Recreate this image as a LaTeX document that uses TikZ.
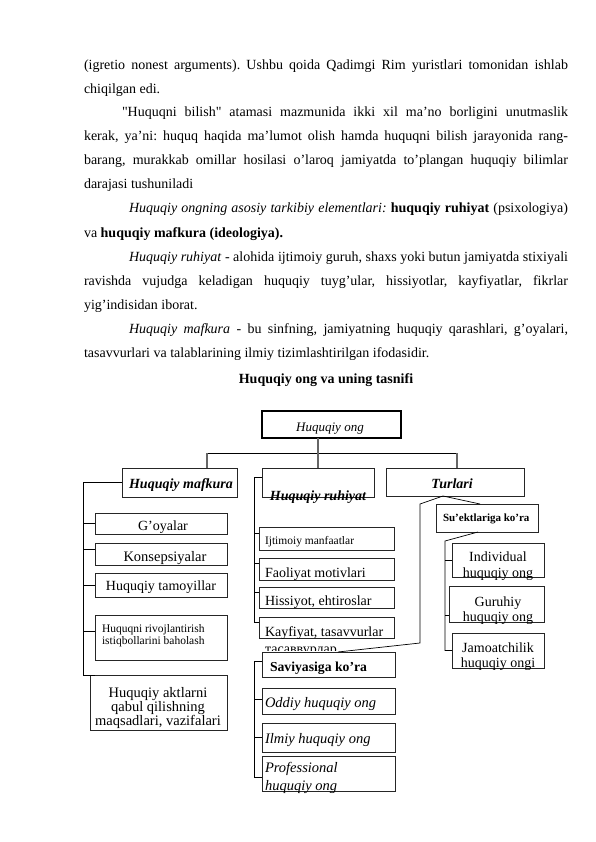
\documentclass[tikz,border=0pt]{standalone}
\usepackage{fontspec}
\setmainfont{Liberation Serif}[Ligatures=TeXOff]
\usetikzlibrary{calc}
\newcommand{\fsz}[1]{\fontsize{#1}{#1}\selectfont}
\newcommand{\mkbox}[6][]{\node[bx,minimum width=#5pt,minimum height=#6pt,#1] (#2) at (#3,#4) {};}
\tikzset{
  bx/.style={rectangle, draw=black!85, line width=0.8pt, fill=white, inner sep=0pt, outer sep=0pt, anchor=north west},
  conn/.style={draw=black, line width=0.7pt},
  drop/.style={draw=black!60, line width=1.3pt},
  para/.style={anchor=base west, inner sep=0pt, outer sep=0pt, font=\fsz{14}},
  lbl/.style={anchor=base, inner sep=0pt, outer sep=0pt},
  lbw/.style={anchor=base west, inner sep=0pt, outer sep=0pt},
}
\frenchspacing
\begin{document}
\begin{tikzpicture}[x=1pt,y=-1pt]
\fill[white] (0,0) rectangle (595,842);
\path[use as bounding box] (0,0) rectangle (595,842);

% ---------- text ----------
\node[para] (p1) at (84,70) {\makebox[484pt][s]{(igretio nonest arguments). Ushbu qoida Qadimgi Rim yuristlari tomonidan ishlab}};
\node[para] (p2) at (84,94) {chiqilgan edi.};
\node[para] (p3) at (122,117) {\makebox[446pt][s]{"Huquqni bilish" atamasi mazmunida ikki xil ma’no borligini unutmaslik}};
\node[para] (p4) at (84,141) {\makebox[484pt][s]{kerak, ya’ni: huquq haqida ma’lumot olish hamda huquqni bilish jarayonida rang-}};
\node[para] (p5) at (84,165) {\makebox[484pt][s]{barang, murakkab omillar hosilasi o’laroq jamiyatda to’plangan huquqiy bilimlar}};
\node[para] (p6) at (84,189) {darajasi tushuniladi};
\node[para] (p7) at (129,213) {\makebox[439pt][s]{\textit{Huquqiy ongning asosiy tarkibiy elementlari:} \textbf{huquqiy ruhiyat} (psixologiya)}};
\node[para] (p8) at (84,237) {va \textbf{huquqiy mafkura (ideologiya).}};
\node[para] (p9) at (129,261) {\makebox[439pt][s]{\textit{Huquqiy ruhiyat} - alohida ijtimoiy guruh, shaxs yoki butun jamiyatda stixiyali}};
\node[para] (p10) at (84,285) {\makebox[484pt][s]{ravishda vujudga keladigan huquqiy tuyg’ular, hissiyotlar, kayfiyatlar, fikrlar}};
\node[para] (p11) at (84,309) {yig’indisidan iborat.};
\node[para] (p12) at (129,333) {\makebox[439pt][s]{\textit{Huquqiy mafkura} - bu sinfning, jamiyatning huquqiy qarashlari, g’oyalari,}};
\node[para] (p13) at (84,357) {tasavvurlari va talablarining ilmiy tizimlashtirilgan ifodasidir.};
\node[lbl, font=\fsz{14}\bfseries] (title) at (326,383) {Huquqiy ong va uning tasnifi};

% ---------- boxes ----------
\mkbox[line width=2.5pt, draw=black]{ong}{262}{411}{139}{27}
\mkbox{maf}{122}{468}{115}{29}
\mkbox{ruh}{262}{468}{112}{29}
\mkbox{tur}{386}{468}{138}{28}
\mkbox{goy}{95}{513}{132}{21}
\mkbox{kon}{95}{543}{132}{22}
\mkbox{tam}{95}{573}{132}{24}
\mkbox{riv}{95}{615}{132}{45}
\mkbox{akt}{90}{675}{137}{55}
\mkbox{ijt}{259}{527}{135}{23}
\mkbox{fao}{259}{558}{135}{22}
\mkbox{his}{259}{587}{135}{21}
\mkbox{kay}{259}{617}{135}{21}
\mkbox{sav}{262}{652}{133}{25}
\mkbox{odd}{262}{688}{133}{26}
\mkbox{ilm}{262}{723}{133}{29}
\mkbox{pro}{262}{756}{133}{35}
\mkbox{sue}{436}{504}{102}{28}
\mkbox{ind}{452}{543}{92}{34}
\mkbox{gur}{449}{586}{95}{36}
\mkbox{jam}{452}{633}{92}{35}

% ---------- connectors ----------
\coordinate (jL) at (207,453);
\coordinate (jR) at (457,453);
\draw[conn] (jL) -- (jR);
\draw[drop] (ong.south -| ruh.north) -- (ruh.north);
\draw[drop] (jL) -- (jL |- maf.north);
\draw[drop] (jR) -- (jR |- tur.north);

% mafkura bracket
\coordinate (mb) at (83,0);
\coordinate (kt) at ($(kon.west)+(0,-5)$);
\coordinate (rt) at ($(riv.west)+(0,-6)$);
\draw[conn] (maf.west) -| ($(akt.north west)+(-7,0)$) -- ($(akt.north west)+(5,0)$);
\draw[conn] (goy.west -| mb) -- (goy.west);
\draw[conn] (kt -| mb) -- (kt);
\draw[conn] (tam.west -| mb) -- (tam.west);
\draw[conn] (rt -| mb) -- (rt);

% ruhiyat bracket
\coordinate (rb) at (254,0);
\coordinate (r0) at ($(ruh.west)+(0,-5)$);
\coordinate (r1) at ($(ijt.west)+(0,-5)$);
\coordinate (r2) at ($(fao.west)+(0,-6)$);
\coordinate (r3) at ($(his.west)+(0,-5)$);
\coordinate (r4) at ($(kay.west)+(0,-5)$);
\draw[conn] (r0) -| (rb |- r4) -- (r4);
\draw[conn] (r1 -| rb) -- (r1);
\draw[conn] (r2 -| rb) -- (r2);
\draw[conn] (r3 -| rb) -- (r3);

% saviyasiga bracket
\coordinate (v0) at ($(sav.west)+(0,-3)$);
\coordinate (v1) at ($(odd.west)+(0,-2)$);
\coordinate (v2) at (ilm.west);
\coordinate (v3) at ($(pro.west)+(0,4)$);
\draw[conn] (v0) -| (rb |- v3) -- (v3);
\draw[conn] (v1 -| rb) -- (v1);
\draw[conn] (v2 -| rb) -- (v2);

% turlari connectors
\coordinate (tb) at ($(tur.south)+(-12,0)$);
\coordinate (tk1) at (420,504);
\coordinate (tk2) at (420,643);
\coordinate (sv) at ($(sav.north west)!0.57!(sav.north east)$);
\draw[conn] (tb) -- (tk1) -- (tk2) -- (sv);
\draw[conn] (tb) -- ($(sue.north)+(-7,0)$);
\coordinate (sb) at ($(sue.south)+(-9,0)$);
\coordinate (s1) at (445,541);
\coordinate (gt) at ($(gur.west)+(0,11)$);
\draw[conn] (sb) -- (s1) -- (s1 |- jam.west) -- (jam.west);
\draw[conn] (ind.west -| s1) -- (ind.west);
\draw[conn] (gt -| s1) -- (gt);

% ---------- box texts ----------
\node[lbl, font=\fsz{13}\itshape] (tong) at (330,431) {Huquqiy ong};
\node[lbl, font=\fsz{14}\bfseries\itshape] (tmaf) at (181,488) {Huquqiy mafkura};
\node[lbl, font=\fsz{14}\bfseries\itshape] (truh) at (318,500) {Huquqiy ruhiyat};
\node[lbl, font=\fsz{14}\bfseries\itshape] (ttur) at (452,488) {Turlari};
\node[lbl, font=\fsz{14}] (tgoy) at (163,530) {G’oyalar};
\node[lbl, font=\fsz{14.5}] (tkon) at (165,561) {Konsepsiyalar};
\node[lbl, font=\fsz{14}] (ttam) at (161,590) {Huquqiy tamoyillar};
\node[lbw, font=\fsz{11.5}] (triv1) at (102,632) {Huquqni rivojlantirish};
\node[lbw, font=\fsz{11.5}] (triv2) at (102,644) {istiqbollarini baholash};
\node[lbl, font=\fsz{14.5}] (takt1) at (158,697) {Huquqiy aktlarni};
\node[lbl, font=\fsz{14.5}] (takt2) at (158,711) {qabul qilishning};
\node[lbl, font=\fsz{14.5}] (takt3) at (158,725) {maqsadlari, vazifalari};
\node[lbw, font=\fsz{11.5}] (tijt) at (265,544) {Ijtimoiy manfaatlar};
\node[lbw, font=\fsz{14}] (tfao) at (265,577) {Faoliyat motivlari};
\node[lbw, font=\fsz{14}] (this) at (265,605) {Hissiyot, ehtiroslar};
\node[lbw, font=\fsz{14}] (tkay) at (265,636) {Kayfiyat, tasavvurlar};
\begin{scope}
  \clip (259,639) rectangle (394,650.5);
  \node[lbw, font=\fsz{14}] (tkay2) at (265,653) {тасаввурлар};
\end{scope}
\node[lbw, font=\fsz{13.7}\bfseries] (tsav) at (270,671) {Saviyasiga ko’ra};
\node[lbw, font=\fsz{14.5}\itshape] (todd) at (265,707) {Oddiy huquqiy ong};
\node[lbw, font=\fsz{14.5}\itshape] (tilm) at (265,743) {Ilmiy huquqiy ong};
\node[lbw, font=\fsz{14.5}\itshape] (tpro1) at (265,772) {Professional};
\node[lbw, font=\fsz{14.5}\itshape] (tpro2) at (265,790) {huquqiy ong};
\node[lbw, font=\fsz{11}\bfseries] (tsue) at (443,521) {Su’ektlariga ko’ra};
\node[lbl, font=\fsz{14}] (tind1) at (498,561) {Individual};
\node[lbl, font=\fsz{14}] (tind2) at (498,577) {huquqiy ong};
\node[lbl, font=\fsz{14}] (tgur1) at (498,606) {Guruhiy};
\node[lbl, font=\fsz{14}] (tgur2) at (498,621) {huquqiy ong};
\node[lbl, font=\fsz{14}] (tjam1) at (498,652) {Jamoatchilik};
\node[lbl, font=\fsz{14}] (tjam2) at (498,667) {huquqiy ongi};
\end{tikzpicture}
\end{document}
